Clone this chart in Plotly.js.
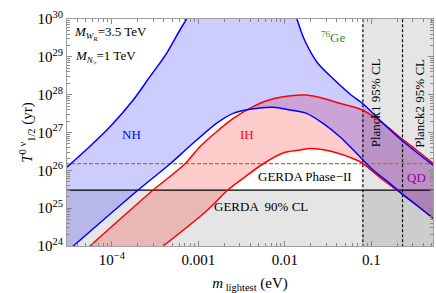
<!DOCTYPE html>
<html>
<head>
<meta charset="utf-8">
<script src="https://cdn.plot.ly/plotly-3.0.1.min.js"></script>
<style>html,body{margin:0;padding:0;background:#fff;}#plot{width:436px;height:293px;}</style>
</head>
<body>
<div id="plot"></div>
<script>
// ---- data (m_lightest in eV, T_1/2 in yr) ----
const nhLowerM = [3.0e-5, 3.57e-5, 2.01e-4, 4.69e-4, 7.98e-4, 1.62e-3, 2.53e-3, 3.94e-3, 7.32e-3, 1.14e-2, 1.78e-2, 2.77e-2, 4.33e-2, 6.75e-2, 0.105, 0.164, 0.223, 0.333, 0.518];
const nhLowerT = [7.1e23, 1e24, 3.02e25, 1.47e26, 4.40e26, 1.75e27, 3.21e27, 4.10e27, 4.63e27, 3.94e27, 3.21e27, 1.75e27, 7.74e26, 2.82e26, 1.02e26, 4.54e25, 2.47e25, 1.21e25, 5.40e24];

const nhUpperLeftM = [3.02e-5, 5.0e-5, 9.5e-5, 1.76e-4, 2.75e-4, 4.29e-4, 6.11e-4, 7.3e-4];
const nhUpperLeftT = [1.22e26, 3.44e26, 1.42e27, 7.23e27, 2.99e28, 1.24e29, 5.12e29, 1e30];

const nhUpperRightM = [1.38e-2, 1.69e-2, 2.41e-2, 3.76e-2, 5.85e-2, 7.91e-2, 0.136, 0.223, 0.518];
const nhUpperRightT = [1e30, 2.79e29, 6.75e28, 2.44e28, 9.80e27, 5.92e27, 1.78e27, 6.32e26, 1.38e26];

const ihUpperM = [5.57e-5, 3.0e-4, 6.98e-4, 1.04e-3, 1.62e-3, 2.53e-3, 3.94e-3, 6.14e-3, 9.55e-3, 1.49e-2, 1.78e-2, 2.77e-2, 4.33e-2, 7.91e-2, 0.137, 0.223, 0.333, 0.518];
const ihUpperT = [1e24, 3.02e25, 1.47e26, 4.21e26, 1.05e27, 2.37e27, 4.36e27, 6.92e27, 8.83e27, 9.80e27, 9.80e27, 8.02e27, 5.92e27, 3.94e27, 1.75e27, 7.02e26, 3.44e26, 1.54e26];

const ihLowerM = [3.92e-4, 1.24e-3, 2.19e-3, 3.45e-3, 5.57e-3, 9.55e-3, 1.49e-2, 1.95e-2, 3.59e-2, 6.75e-2, 7.91e-2, 0.137, 0.223, 0.333, 0.518];
const ihLowerT = [1e24, 8.41e24, 3.02e25, 6.65e25, 1.47e26, 2.87e26, 3.44e26, 3.78e26, 3.10e26, 1.88e26, 1.54e26, 5.55e25, 2.47e25, 1.21e25, 5.40e24];

const gerdaLimit = 3.0e25;      // GERDA 90% CL
const gerdaPhase2 = 1.5e26;     // GERDA Phase-II (dashed)
const planck1 = 0.08;           // Planck1 95% CL
const planck2 = 0.23;           // Planck2 95% CL

const xTickVals = [1e-4, 1e-3, 1e-2, 1e-1];
const xTickText = ['10<sup>\u22124</sup>', '0.001', '0.01', '0.1'];
const yTickVals = [1e24, 1e25, 1e26, 1e27, 1e28, 1e29, 1e30];
const yTickText = ['10<sup>24</sup>', '10<sup>25</sup>', '10<sup>26</sup>', '10<sup>27</sup>', '10<sup>28</sup>', '10<sup>29</sup>', '10<sup>30</sup>'];

// ---- build ----
const xLo = 1e-6, xHi = 10, yLo = 1e20, yHi = 1e34; // off-plot extents (clipped)
function minorVals(e0, e1) {
  const v = [];
  for (let e = e0; e <= e1; e++) for (let k = 2; k <= 9; k++) v.push(k * Math.pow(10, e));
  return v;
}
const rev = a => a.slice().reverse();

const traces = [];
// gray excluded regions
traces.push({x:[planck1, xHi, xHi, planck1], y:[yLo, yLo, yHi, yHi], fill:'toself', mode:'none',
  fillcolor:'rgba(0,0,0,0.1)', hoverinfo:'skip', showlegend:false});
traces.push({x:[xLo, xHi, xHi, xLo], y:[yLo, yLo, gerdaLimit, gerdaLimit], fill:'toself', mode:'none',
  fillcolor:'rgba(0,0,0,0.1)', hoverinfo:'skip', showlegend:false});
// IH band
traces.push({x: ihUpperM.concat(rev(ihLowerM)), y: ihUpperT.concat(rev(ihLowerT)), fill:'toself', mode:'none',
  fillcolor:'rgba(255,0,0,0.2)', hoverinfo:'skip', showlegend:false});
// NH band
traces.push({x: nhLowerM.concat(rev(nhUpperRightM), rev(nhUpperLeftM)),
  y: nhLowerT.concat(rev(nhUpperRightT), rev(nhUpperLeftT)), fill:'toself', mode:'none',
  fillcolor:'rgba(0,0,255,0.2)', hoverinfo:'skip', showlegend:false});
// experimental lines
traces.push({x:[xLo, xHi], y:[gerdaPhase2, gerdaPhase2], mode:'lines', line:{color:'#b0702f', width:1.3, dash:'4px,2px'}, showlegend:false});
traces.push({x:[xLo, xHi], y:[gerdaLimit, gerdaLimit], mode:'lines', line:{color:'#000', width:1.3}, showlegend:false});
traces.push({x:[planck1, planck1], y:[yLo, yHi], mode:'lines', line:{color:'#000', width:1.2, dash:'3px,2px'}, showlegend:false});
traces.push({x:[planck2, planck2], y:[yLo, yHi], mode:'lines', line:{color:'#000', width:1.2, dash:'3px,2px'}, showlegend:false});
// curves
const red = {color:'#ff0000', width:1.5, shape:'spline', smoothing:0.8};
const blue = {color:'#0000ff', width:1.5, shape:'spline', smoothing:0.8};
traces.push({x: ihUpperM, y: ihUpperT, mode:'lines', line: red, showlegend:false});
traces.push({x: ihLowerM, y: ihLowerT, mode:'lines', line: red, showlegend:false});
traces.push({x: nhLowerM, y: nhLowerT, mode:'lines', line: blue, showlegend:false});
traces.push({x: nhUpperLeftM, y: nhUpperLeftT, mode:'lines', line: blue, showlegend:false});
traces.push({x: nhUpperRightM, y: nhUpperRightT, mode:'lines', line: blue, showlegend:false});

const serif = 'Liberation Serif, Times New Roman, serif';
function ann(text, x, y, opts) {
  return Object.assign({text, x, y, xref:'paper', yref:'paper', showarrow:false,
    xanchor:'center', yanchor:'middle',
    font:{family:serif, size:13, color:'#000'}}, opts || {});
}
const annotations = [
  ann('<i>M</i><sub><i>W</i><sub>R</sub></sub>=3.5 TeV', 0.014, 0.938, {xanchor:'left'}),
  ann('<i>M</i><sub><i>N</i><sub>></sub></sub>=1 TeV', 0.016, 0.833, {xanchor:'left'}),
  ann('<sup>76</sup>Ge', 0.728, 0.921, {font:{family:serif, size:13, color:'#2e8b2e'}}),
  ann('NH', 0.175, 0.489, {font:{family:serif, size:13, color:'#0000ff'}}),
  ann('IH', 0.492, 0.489, {font:{family:serif, size:13, color:'#ff0000'}}),
  ann('Planck1 95% CL', 0.845, 0.630, {textangle:-90}),
  ann('Planck2 95% CL', 0.964, 0.630, {textangle:-90}),
  ann('QD', 0.956, 0.300, {font:{family:serif, size:13, color:'#990099'}}),
  ann('GERDA Phase\u2212II', 0.650, 0.304),
  ann('GERDA  90% CL', 0.530, 0.172)
];

const layout = {
  width: 436, height: 293,
  margin: {l:67, r:3, t:19, b:47, pad:0},
  paper_bgcolor:'#fff', plot_bgcolor:'#fff',
  font: {family: serif, size: 15, color:'#000'},
  xaxis: {
    type:'log', range:[Math.log10(3.02e-5), Math.log10(0.518)], autorange:false,
    showgrid:false, zeroline:false, showline:true, mirror:'ticks', linecolor:'#a0a0a0', linewidth:1,
    ticks:'inside', ticklen:5, tickcolor:'#888', tickmode:'array', tickvals:xTickVals, ticktext:xTickText,
    tickfont:{family:serif, size:15},
    minor:{ticks:'inside', ticklen:3, tickcolor:'#888', tickvals:minorVals(-5, -1), showgrid:false},
    title:{text:'<i>m</i><sub> lightest</sub> (eV)', font:{family:serif, size:15}, standoff:12}
  },
  yaxis: {
    type:'log', range:[24, 30], autorange:false,
    showgrid:false, zeroline:false, showline:true, mirror:'ticks', linecolor:'#a0a0a0', linewidth:1,
    ticks:'inside', ticklen:5, tickcolor:'#888', tickmode:'array', tickvals:yTickVals, ticktext:yTickText,
    tickfont:{family:serif, size:15},
    minor:{ticks:'inside', ticklen:3, tickcolor:'#888', tickvals:minorVals(24, 29), showgrid:false},
    title:{text:'<i>T</i><sup>0 \u03bd</sup><sub>1/2</sub> (yr)', font:{family:serif, size:15}, standoff:0}
  },
  annotations
};
Plotly.newPlot('plot', traces, layout, {staticPlot:true, displayModeBar:false});
</script>
</body>
</html>
